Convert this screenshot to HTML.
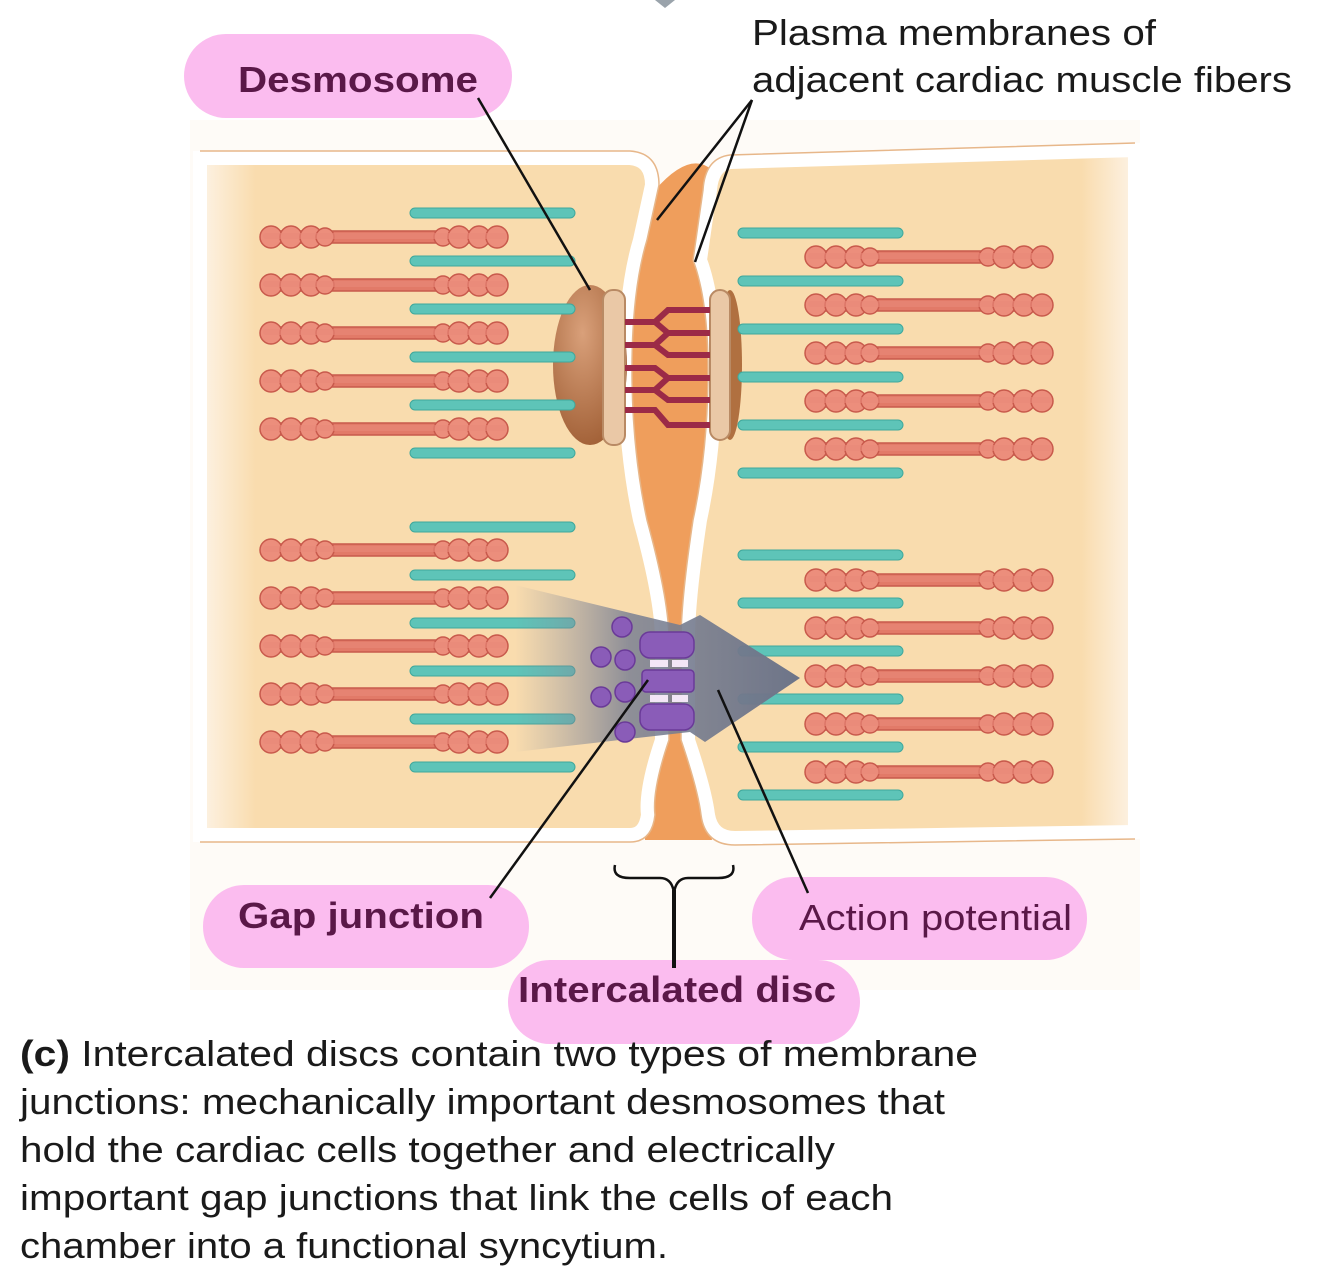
<!DOCTYPE html>
<html><head><meta charset="utf-8"><style>
html,body{margin:0;padding:0;background:#fff;}
body{width:1334px;height:1282px;position:relative;overflow:hidden;font-family:"Liberation Sans",sans-serif;}
svg{position:absolute;left:0;top:0;}
</style></head><body>
<svg width="1334" height="1282" viewBox="0 0 1334 1282">
<defs>
<linearGradient id="fadeL" x1="0" x2="1"><stop offset="0" stop-color="#fdf3e6"/><stop offset="0.12" stop-color="#f9dcae"/><stop offset="1" stop-color="#f9dcae"/></linearGradient>
<linearGradient id="fadeR" x1="0" x2="1"><stop offset="0" stop-color="#f9dcae"/><stop offset="0.88" stop-color="#f9dcae"/><stop offset="1" stop-color="#fdf3e6"/></linearGradient>
<linearGradient id="arrowG" x1="0" x2="1"><stop offset="0" stop-color="#8a8f9e" stop-opacity="0"/><stop offset="0.4" stop-color="#7b8193" stop-opacity="0.85"/><stop offset="1" stop-color="#6d7488"/></linearGradient>
<radialGradient id="plaque" cx="0.4" cy="0.3" r="0.8"><stop offset="0" stop-color="#d9a07a"/><stop offset="1" stop-color="#9c5a30"/></radialGradient>
<g id="myo">
  <rect x="0" y="-6" width="244" height="12" rx="6" fill="#e27a68" stroke="#c85a4c" stroke-width="1.5"/>
  <g fill="#ec8e7c" stroke="#c85a4c" stroke-width="1.5">
    <circle cx="8" cy="0" r="11"/><circle cx="28" cy="0" r="11"/><circle cx="48" cy="0" r="11"/><circle cx="62" cy="0" r="9"/>
    <circle cx="180" cy="0" r="9"/><circle cx="196" cy="0" r="11"/><circle cx="216" cy="0" r="11"/><circle cx="234" cy="0" r="11"/>
  </g>
  <rect x="0" y="-4" width="244" height="6" rx="3" fill="#e9887a" opacity="0.6"/>
</g>
<g id="act"><rect x="0" y="-5" width="165" height="10" rx="5" fill="#5ec4b8" stroke="#3fa89c" stroke-width="1"/></g>
</defs>
<polygon points="655,0 675,0 665,8" fill="#9aa3ab"/>
<rect x="190" y="120" width="950" height="870" fill="#fefbf7"/>
<!-- intercellular orange (behind) -->
<path d="M655,190 Q690,150 712,170 L700,260 Q715,300 715,370 Q715,450 700,520 Q688,600 688,640 L688,740 Q705,790 712,840 L645,840 Q645,790 662,740 L662,640 Q662,600 640,520 Q625,450 625,370 Q625,300 640,240 Z" fill="#ef9e5c"/>
<!-- left cell -->
<path d="M200,158 L630,158 Q652,160 652,185 L640,240 Q625,290 625,370 Q625,450 640,520 Q662,600 662,640 L662,740 Q645,790 648,815 Q645,835 630,835 L200,835 Z" fill="url(#fadeL)" stroke="#fff" stroke-width="14"/>
<path d="M200,151 L630,151 Q659,153 659,185 L647,240 Q632,290 632,370 Q632,450 647,520 Q669,600 669,640 L669,740 Q652,790 655,815 Q652,842 630,842 L200,842" fill="none" stroke="#e7b78a" stroke-width="1.5"/>
<!-- right cell -->
<path d="M1135,150 L730,162 Q712,165 710,190 L700,260 Q715,300 715,370 Q715,450 700,520 Q688,600 688,640 L688,740 Q705,790 708,815 Q712,838 735,838 L1135,832 Z" fill="url(#fadeR)" stroke="#fff" stroke-width="14"/>
<path d="M1135,143 L730,155 Q705,158 703,190 L693,260 Q708,300 708,370 Q708,450 693,520 Q681,600 681,640 L681,740 Q698,790 701,815 Q705,845 735,845 L1135,839" fill="none" stroke="#e7b78a" stroke-width="1.5"/>
<!-- desmosome -->
<ellipse cx="590" cy="365" rx="37" ry="80" fill="url(#plaque)"/>
<rect x="603" y="290" width="22" height="155" rx="10" fill="#eac8a6" stroke="#b98a64" stroke-width="2"/>
<ellipse cx="730" cy="365" rx="12" ry="75" fill="#b07040"/>
<rect x="710" y="290" width="20" height="150" rx="10" fill="#eac8a6" stroke="#b98a64" stroke-width="2"/>
<g stroke="#9b2a47" stroke-width="6" fill="none">
<path d="M625,322 H655 L668,310 H710"/><path d="M625,345 H655 L668,333 H710 M655,345 L668,355 H710"/>
<path d="M625,368 H655 L668,378 H710"/><path d="M625,390 H655 L668,400 H710 M655,390 L668,378"/>
<path d="M625,410 H655 L668,425 H710"/><path d="M655,322 L668,333"/>
</g>
<g>
<use href="#act" x="410" y="213"/><use href="#act" x="410" y="261"/><use href="#act" x="410" y="309"/><use href="#act" x="410" y="357"/><use href="#act" x="410" y="405"/><use href="#act" x="410" y="453"/>
<use href="#myo" x="263" y="237"/><use href="#myo" x="263" y="285"/><use href="#myo" x="263" y="333"/><use href="#myo" x="263" y="381"/><use href="#myo" x="263" y="429"/>
<use href="#act" x="410" y="527"/><use href="#act" x="410" y="575"/><use href="#act" x="410" y="623"/><use href="#act" x="410" y="671"/><use href="#act" x="410" y="719"/><use href="#act" x="410" y="767"/>
<use href="#myo" x="263" y="550"/><use href="#myo" x="263" y="598"/><use href="#myo" x="263" y="646"/><use href="#myo" x="263" y="694"/><use href="#myo" x="263" y="742"/>
</g>
<g>
<use href="#act" x="738" y="233"/><use href="#act" x="738" y="281"/><use href="#act" x="738" y="329"/><use href="#act" x="738" y="377"/><use href="#act" x="738" y="425"/><use href="#act" x="738" y="473"/>
<use href="#myo" x="808" y="257"/><use href="#myo" x="808" y="305"/><use href="#myo" x="808" y="353"/><use href="#myo" x="808" y="401"/><use href="#myo" x="808" y="449"/>
<use href="#act" x="738" y="555"/><use href="#act" x="738" y="603"/><use href="#act" x="738" y="651"/><use href="#act" x="738" y="699"/><use href="#act" x="738" y="747"/><use href="#act" x="738" y="795"/>
<use href="#myo" x="808" y="580"/><use href="#myo" x="808" y="628"/><use href="#myo" x="808" y="676"/><use href="#myo" x="808" y="724"/><use href="#myo" x="808" y="772"/>
</g>
<polygon points="515,585 680,625 700,615 800,678 705,742 690,732 515,752" fill="url(#arrowG)"/>
<g fill="#8a5cb8" stroke="#6a3a98" stroke-width="1.5">
<circle cx="622" cy="627" r="10"/><circle cx="601" cy="657" r="10"/><circle cx="625" cy="660" r="10"/><circle cx="601" cy="697" r="10"/><circle cx="625" cy="692" r="10"/><circle cx="625" cy="732" r="10"/>
<rect x="640" y="632" width="54" height="26" rx="10"/><rect x="640" y="704" width="54" height="26" rx="10"/>
<rect x="642" y="670" width="52" height="22" rx="4"/>
</g>
<g fill="#f3e6f6"><rect x="650" y="660" width="18" height="7"/><rect x="672" y="660" width="16" height="7"/><rect x="650" y="695" width="18" height="7"/><rect x="672" y="695" width="16" height="7"/></g>
<g fill="#fbbcef">
<rect x="184" y="34" width="328" height="84" rx="42"/>
<rect x="203" y="885" width="326" height="83" rx="41"/>
<rect x="752" y="877" width="335" height="83" rx="41"/>
<rect x="508" y="960" width="352" height="84" rx="42"/>
</g>
<g stroke="#111" stroke-width="2.5" fill="none">
<line x1="478" y1="98" x2="590" y2="290"/>
<line x1="752" y1="100" x2="657" y2="220"/><line x1="752" y1="100" x2="695" y2="262"/>
<line x1="490" y1="898" x2="648" y2="680"/>
<line x1="808" y1="893" x2="718" y2="690"/>
<path d="M615,865 Q612,878 630,878 L660,878 Q672,878 674,893 Q676,878 688,878 L718,878 Q736,878 733,865"/>
<line x1="674" y1="890" x2="674" y2="968" stroke-width="4"/>
</g>
<g font-family="Liberation Sans, sans-serif" fill="#5a1848" font-size="36" lengthAdjust="spacingAndGlyphs">
<text x="238" y="92" font-weight="bold" textLength="240" lengthAdjust="spacingAndGlyphs">Desmosome</text>
<text x="238" y="928" font-weight="bold" textLength="246" lengthAdjust="spacingAndGlyphs">Gap junction</text>
<text x="799" y="930" textLength="273" lengthAdjust="spacingAndGlyphs">Action potential</text>
<text x="518" y="1002" font-weight="bold" textLength="318" lengthAdjust="spacingAndGlyphs">Intercalated disc</text>
</g>
<g font-family="Liberation Sans, sans-serif" fill="#1a1a1a" font-size="36">
<text x="752" y="45" textLength="404" lengthAdjust="spacingAndGlyphs">Plasma membranes of</text>
<text x="752" y="92" textLength="540" lengthAdjust="spacingAndGlyphs">adjacent cardiac muscle fibers</text>
<text x="20" y="1066" textLength="958" lengthAdjust="spacingAndGlyphs"><tspan font-weight="bold">(c)</tspan>  Intercalated discs contain two types of membrane</text>
<text x="20" y="1114" textLength="925" lengthAdjust="spacingAndGlyphs">junctions: mechanically important desmosomes that</text>
<text x="20" y="1162" textLength="815" lengthAdjust="spacingAndGlyphs">hold the cardiac cells together and electrically</text>
<text x="20" y="1210" textLength="873" lengthAdjust="spacingAndGlyphs">important gap junctions that link the cells of each</text>
<text x="20" y="1258" textLength="648" lengthAdjust="spacingAndGlyphs">chamber into a functional syncytium.</text>
</g>
</svg>
</body></html>
